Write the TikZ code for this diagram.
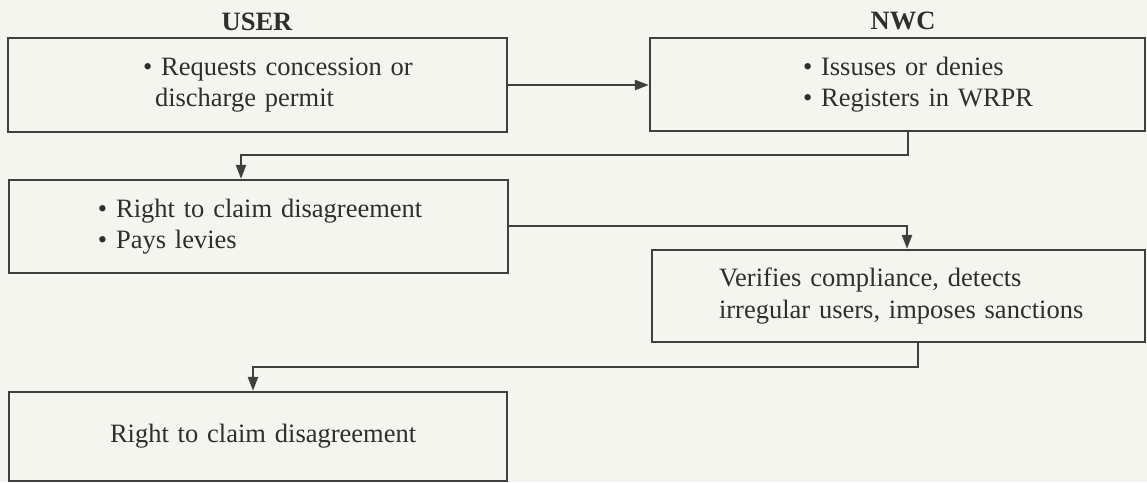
\documentclass[tikz,border=0pt]{standalone}
\usepackage{fontspec}
\setmainfont{Liberation Serif}
\usetikzlibrary{arrows.meta}
\definecolor{bg}{RGB}{243,245,238}
\definecolor{ink}{RGB}{62,64,62}
\definecolor{txt}{RGB}{45,47,45}
\begin{document}
\begin{tikzpicture}[x=1pt,y=-1pt,
  every node/.style={text=txt,font=\fontsize{26.5}{31.5}\selectfont},
  stagebox/.style={draw=ink,line width=2.3pt,rectangle,inner xsep=0pt,inner ysep=0pt,align=left},
  head/.style={font=\fontsize{26.5}{31.5}\selectfont\bfseries},
  arr/.style={draw=ink,line width=2.3pt,-{Triangle[length=14pt,width=10pt]}}]
\fill[bg] (0,0) rectangle (1147,482);
\useasboundingbox (0,0) rectangle (1147,482);
\node[head] (user) at (257,22) {USER};
\node[head] (nwc) at (903,21) {NWC};
\node[stagebox,minimum width=499pt,text width=499pt,minimum height=94pt] (b1) at (257.5,85)
  {\hspace*{135pt}• Requests concession or\\\hspace*{147pt}discharge permit};
\node[stagebox,minimum width=495pt,text width=495pt,minimum height=93pt] (b2) at (897.5,84.5)
  {\hspace*{153pt}• Issuses or denies\\\hspace*{153pt}• Registers in WRPR};
\node[stagebox,minimum width=499pt,text width=499pt,minimum height=93pt] (b3) at (258.5,226.5)
  {\hspace*{89pt}• Right to claim disagreement\\\hspace*{89pt}• Pays levies};
\node[stagebox,minimum width=493pt,text width=493pt,minimum height=92pt] (b4) at (898.5,296)
  {\hspace*{67pt}Verifies compliance, detects\\\hspace*{67pt}irregular users, imposes sanctions};
\node[stagebox,minimum width=498pt,text width=498pt,minimum height=89pt] (b5) at (258,436.5)
  {\hspace*{101pt}Right to claim disagreement};
\coordinate (k1) at (908,155);
\coordinate (k2) at (241,155);
\coordinate (k3) at (907,226);
\coordinate (k4) at (918,367);
\coordinate (k5) at (253,367);
\draw[arr] (b1.east |- 0,85) -- (b2.west |- 0,85);
\draw[arr] (b2.south -| k1) -- (k1) -- (k2) -- (b3.north -| k2);
\draw[arr] (b3.east |- k3) -- (k3) -- (b4.north -| k3);
\draw[arr] (b4.south -| k4) -- (k4) -- (k5) -- (b5.north -| k5);
\end{tikzpicture}
\end{document}
